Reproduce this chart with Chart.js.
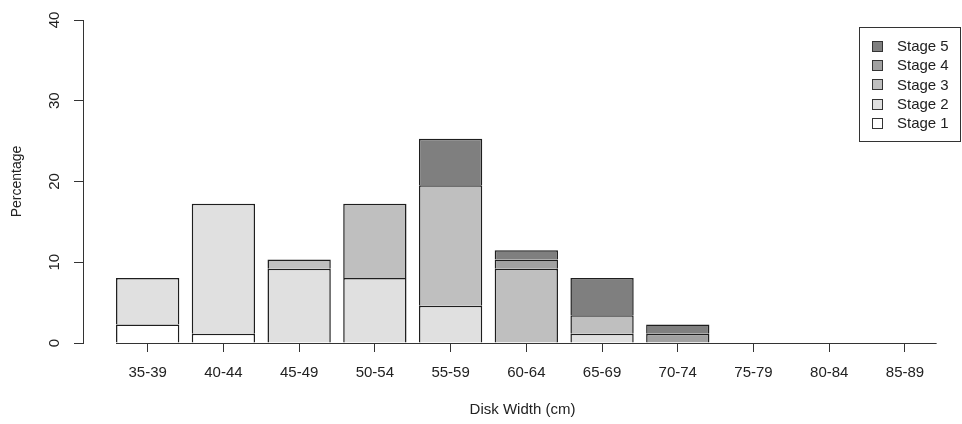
<!DOCTYPE html>
<html>
<head>
<meta charset="utf-8">
<script src="https://cdn.jsdelivr.net/npm/chart.js@4/dist/chart.umd.min.js"></script>
<style>
  html, body { margin: 0; padding: 0; background: #ffffff; }
  #c { display: block; }
</style>
</head>
<body>
<canvas id="c" width="962" height="424"></canvas>
<script>
// Disk-width classes and the percentage of animals in each maturity stage
const categories = ['35-39', '40-44', '45-49', '50-54', '55-59', '60-64', '65-69', '70-74', '75-79', '80-84', '85-89'];
const stage1 = [2.30, 1.15, 0, 0, 0, 0, 0, 0, 0, 0, 0];
const stage2 = [5.75, 16.09, 9.20, 8.05, 4.60, 0, 1.15, 0, 0, 0, 0];
const stage3 = [0, 0, 1.15, 9.20, 14.94, 9.20, 2.30, 0, 0, 0, 0];
const stage4 = [0, 0, 0, 0, 0, 1.15, 0, 1.15, 0, 0, 0];
const stage5 = [0, 0, 0, 0, 5.75, 1.15, 4.60, 1.15, 0, 0, 0];
const stageNames = ['Stage 1', 'Stage 2', 'Stage 3', 'Stage 4', 'Stage 5'];
const stageColors = ['#ffffff', '#e0e0e0', '#bfbfbf', '#a1a1a1', '#7f7f7f'];
const yTicks = [0, 10, 20, 30, 40];

const FONT = "'Liberation Sans', Arial, sans-serif";
const INK = '#222222';
const LINE = '#333333';
const BAR_EDGE = '#1e1e1e';

Chart.defaults.font.family = FONT;
Chart.defaults.color = INK;

const series = [stage1, stage2, stage3, stage4, stage5];
const datasets = series.map((vals, s) => ({
  label: stageNames[s],
  data: vals.map((v, i) => ({ x: i, y: v })),
  backgroundColor: stageColors[s],
  borderColor: BAR_EDGE,
  borderWidth: 1.5,
  borderSkipped: 'start',
  categoryPercentage: 1,
  barPercentage: 0.836
}));

// Baseline under the full run of bars, zero-height classes included
const baselinePlugin = {
  id: 'baseline',
  afterDatasetsDraw(chart) {
    const bars = chart.getDatasetMeta(0).data;
    if (!bars.length) return;
    const first = bars[0], last = bars[bars.length - 1];
    const x0 = first.x - first.width / 2;
    const x1 = last.x + last.width / 2;
    const y = Math.round(chart.scales.y.getPixelForValue(0)) + 0.5;
    const ctx = chart.ctx;
    ctx.save();
    ctx.strokeStyle = LINE;
    ctx.lineWidth = 1.2;
    ctx.beginPath();
    ctx.moveTo(x0, y);
    ctx.lineTo(x1, y);
    ctx.stroke();
    ctx.restore();
  }
};

// Boxed legend in the top-right corner, highest stage first
const boxLegendPlugin = {
  id: 'boxLegend',
  afterDraw(chart) {
    const ctx = chart.ctx;
    const box = { x: 859.5, y: 27.5, w: 101, h: 114 };
    ctx.save();
    ctx.fillStyle = '#ffffff';
    ctx.fillRect(box.x, box.y, box.w, box.h);
    ctx.strokeStyle = LINE;
    ctx.lineWidth = 1;
    ctx.strokeRect(box.x, box.y, box.w, box.h);
    ctx.font = '15px ' + FONT;
    ctx.textBaseline = 'middle';
    ctx.textAlign = 'left';
    const order = chart.data.datasets.map((d, i) => i).reverse();
    order.forEach((di, row) => {
      const ds = chart.data.datasets[di];
      const cy = 47 + row * 19.2;
      ctx.fillStyle = ds.backgroundColor;
      ctx.fillRect(872.5, Math.round(cy) - 5.5, 10, 10);
      ctx.strokeStyle = LINE;
      ctx.strokeRect(872.5, Math.round(cy) - 5.5, 10, 10);
      ctx.fillStyle = INK;
      ctx.fillText(ds.label, 897, cy);
    });
    ctx.restore();
  }
};

new Chart(document.getElementById('c'), {
  type: 'bar',
  data: { datasets },
  options: {
    responsive: false,
    animation: false,
    devicePixelRatio: 1,
    layout: { padding: { left: 0, top: 19, right: 0, bottom: 0 } },
    plugins: {
      legend: { display: false },
      tooltip: { enabled: false }
    },
    scales: {
      x: {
        type: 'linear',
        stacked: true,
        offset: false,
        min: -0.854,
        max: 10.753,
        afterBuildTicks(scale) {
          scale.ticks = categories.map((c, i) => ({ value: i }));
        },
        afterFit(scale) { scale.height = 81; },
        border: { display: false },
        grid: {
          offset: false,
          drawOnChartArea: false,
          drawTicks: true,
          tickLength: 9,
          color: LINE,
          lineWidth: 1
        },
        ticks: {
          autoSkip: false,
          maxRotation: 0,
          minRotation: 0,
          padding: 12,
          font: { size: 15 },
          color: INK,
          callback: (v) => categories[v]
        },
        title: {
          display: true,
          text: 'Disk Width (cm)',
          font: { size: 15 },
          color: INK,
          padding: { top: 0, bottom: 5 }
        }
      },
      y: {
        stacked: true,
        min: 0,
        max: 40,
        afterBuildTicks(scale) {
          scale.ticks = yTicks.map(v => ({ value: v }));
        },
        afterFit(scale) { scale.width = 83; },
        border: { display: true, color: LINE, width: 1 },
        grid: {
          drawOnChartArea: false,
          drawTicks: true,
          tickLength: 9,
          color: LINE,
          lineWidth: 1
        },
        ticks: {
          minRotation: 90,
          maxRotation: 90,
          crossAlign: 'center',
          padding: 11,
          font: { size: 15 },
          color: INK
        },
        title: {
          display: true,
          text: 'Percentage',
          font: { size: 14 },
          color: INK,
          padding: { top: 9, bottom: 0 }
        }
      }
    }
  },
  plugins: [baselinePlugin, boxLegendPlugin]
});
</script>
</body>
</html>
